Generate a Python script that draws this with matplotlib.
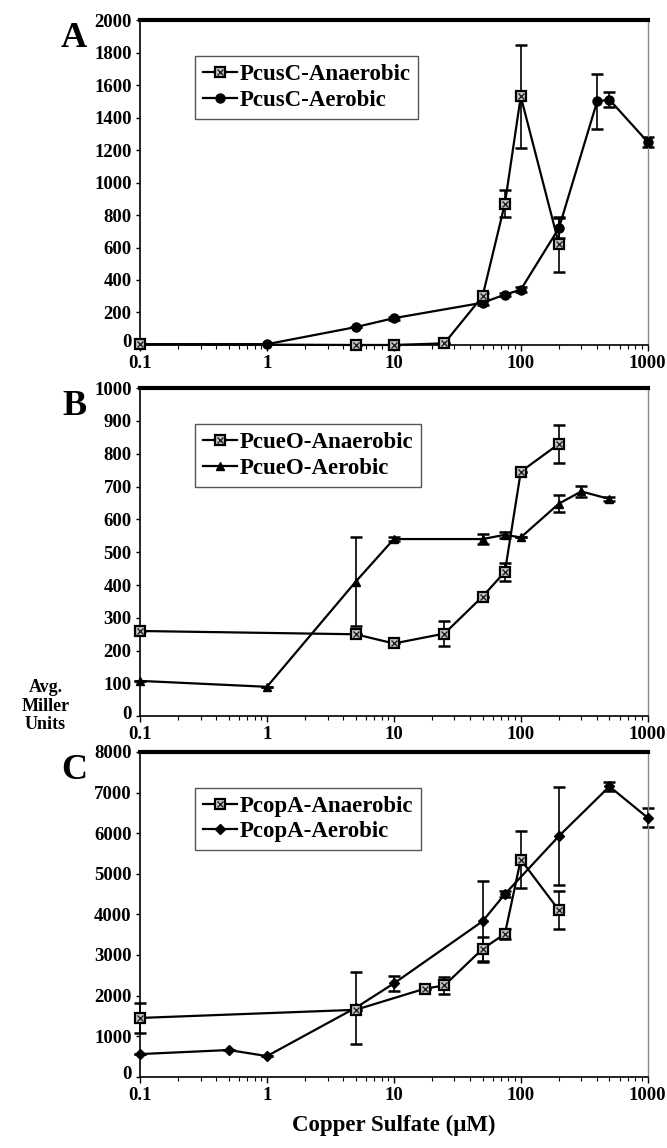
import matplotlib
matplotlib.use('Agg')
import matplotlib.pyplot as plt
import matplotlib.transforms as mtransforms
from matplotlib.ticker import FixedLocator, NullFormatter
import numpy as np

plt.rcParams['font.family'] = ['Liberation Serif', 'DejaVu Serif']
plt.rcParams['font.weight'] = 'bold'

# Panel A - PcusC
a_an_x = [0.1, 5, 10, 25, 50, 75, 100, 200]
a_an_y = [5, 0, 0, 10, 300, 870, 1530, 620]
a_an_err = [0, 0, 0, 0, 20, 85, 315, 170]
a_ae_x = [0.1, 1, 5, 10, 50, 75, 100, 200, 400, 500, 1000]
a_ae_y = [5, 5, 110, 165, 260, 310, 340, 720, 1500, 1510, 1250]
a_ae_err = [0, 0, 0, 10, 15, 10, 15, 60, 170, 45, 30]

# Panel B - PcueO
b_an_x = [0.1, 5, 10, 25, 50, 75, 100, 200]
b_an_y = [260, 250, 222, 252, 365, 440, 745, 830]
b_an_err = [0, 0, 0, 38, 0, 28, 0, 57]
b_ae_x = [0.1, 1, 5, 10, 50, 75, 100, 200, 300, 500]
b_ae_y = [108, 90, 410, 540, 540, 553, 545, 648, 685, 662]
b_ae_err = [0, 0, 135, 5, 14, 10, 0, 25, 17, 7]

# Panel C - PcopA
c_an_x = [0.1, 5, 17.5, 25, 50, 75, 100, 200]
c_an_y = [1450, 1650, 2170, 2250, 3150, 3520, 5350, 4100]
c_an_err = [370, 0, 0, 220, 300, 120, 710, 470]
c_ae_x = [0.1, 0.5, 1, 5, 10, 50, 75, 200, 500, 1000]
c_ae_y = [560, 660, 510, 1700, 2300, 3830, 4500, 5930, 7150, 6380]
c_ae_err = [0, 0, 0, 880, 180, 1000, 70, 1200, 120, 230]

panels = [
    dict(letter='A', an=(a_an_x, a_an_y, a_an_err), ae=(a_ae_x, a_ae_y, a_ae_err),
         names=('PcusC-Anaerobic', 'PcusC-Aerobic'), mk='o', ymax=2000, ystep=200,
         pos=[0.21, 0.6995, 0.761, 0.283]),
    dict(letter='B', an=(b_an_x, b_an_y, b_an_err), ae=(b_ae_x, b_ae_y, b_ae_err),
         names=('PcueO-Anaerobic', 'PcueO-Aerobic'), mk='^', ymax=1000, ystep=100,
         pos=[0.21, 0.376, 0.761, 0.286]),
    dict(letter='C', an=(c_an_x, c_an_y, c_an_err), ae=(c_ae_x, c_ae_y, c_ae_err),
         names=('PcopA-Anaerobic', 'PcopA-Aerobic'), mk='D', ymax=8000, ystep=1000,
         pos=[0.21, 0.062, 0.761, 0.283]),
]

fig = plt.figure(figsize=(6.67, 11.48), dpi=100)
lift = mtransforms.ScaledTranslation(0, 3 / 72, fig.dpi_scale_trans)

for p in panels:
    ax = fig.add_axes(p['pos'])
    ax.set_xscale('log')
    ax.set_xlim(0.1, 1000)
    ax.set_ylim(0, p['ymax'])

    x, y, e = p['an']
    ax.errorbar(x, y, yerr=e, fmt='none', ecolor='black', elinewidth=1.2,
                capsize=4, capthick=1.8, zorder=2, clip_on=False)
    ax.plot(x, y, '-', color='black', lw=1.6, zorder=3, clip_on=False)
    sq, = ax.plot(x, y, 's', ms=7.5, mfc='#c8c8c8', mec='black', mew=1.6,
                  zorder=4, clip_on=False)
    xx, = ax.plot(x, y, 'x', ms=5, mec='#222222', mew=1.0, zorder=5, clip_on=False)
    ln1, = ax.plot([], [], '-', color='black', lw=1.6)

    x, y, e = p['ae']
    ax.errorbar(x, y, yerr=e, fmt='none', ecolor='black', elinewidth=1.2,
                capsize=4, capthick=1.8, zorder=2, clip_on=False)
    ms = 6.5 if p['mk'] == 'o' else 5.5
    ln2, = ax.plot(x, y, '-', marker=p['mk'], ms=ms, color='black', lw=1.6,
                   zorder=3, clip_on=False)

    leg = ax.legend([(ln1, sq, xx), ln2], p['names'], loc='upper left',
                    bbox_to_anchor=(0.085, 0.925), fancybox=False, framealpha=1,
                    edgecolor='#555555', handlelength=1.5, handletextpad=0.1,
                    borderpad=0.35, labelspacing=0.2,
                    prop=dict(family='Liberation Serif', weight='bold', size=16.5))
    leg.get_frame().set_linewidth(1.0)

    ax.yaxis.set_major_locator(FixedLocator(np.arange(0, p['ymax'] + 1, p['ystep'])))
    ax.set_xticks([0.1, 1, 10, 100, 1000])
    ax.set_xticklabels(['0.1', '1', '10', '100', '1000'])
    ax.xaxis.set_minor_formatter(NullFormatter())
    ax.tick_params(axis='both', which='major', labelsize=13.5, width=1)
    ax.tick_params(axis='x', which='minor', direction='out', length=3, width=0.8)
    ax.tick_params(axis='x', which='major', direction='out', length=4, pad=3)
    ax.tick_params(axis='y', which='major', direction='out', length=3, pad=3)
    for lab in ax.get_xticklabels() + ax.get_yticklabels():
        lab.set_fontweight('bold')
    zero = ax.yaxis.get_major_ticks()[0].label1
    zero.set_transform(zero.get_transform() + lift)

    ax.spines['top'].set_linewidth(3)
    ax.spines['right'].set_color('#888888')
    ax.spines['right'].set_linewidth(1)
    ax.spines['left'].set_linewidth(1.2)
    ax.spines['bottom'].set_linewidth(1.2)

    ax.text(-0.13, 0.995, p['letter'], transform=ax.transAxes, fontsize=26,
            fontweight='bold', ha='center', va='top')

    if p['letter'] == 'C':
        ax.set_xlabel('Copper Sulfate (\u03bcM)', fontsize=16.5, fontweight='bold',
                      labelpad=8)

fig.text(0.068, 0.385, 'Avg.\nMiller\nUnits', ha='center', va='center',
         fontsize=13, fontweight='bold', linespacing=1.15)

fig.savefig('out.png', dpi=100)
